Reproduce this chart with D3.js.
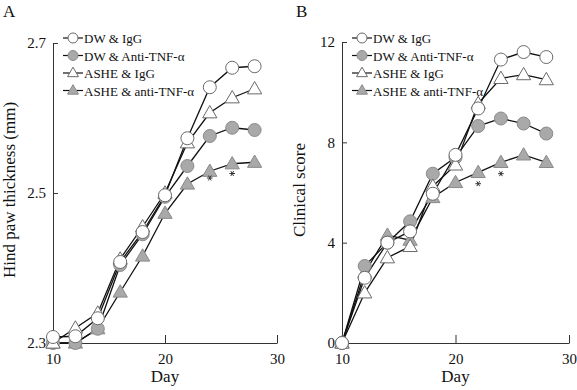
<!DOCTYPE html>
<html>
<head>
<meta charset="utf-8">
<script src="https://cdn.jsdelivr.net/npm/d3@7"></script>
<style>
  body { margin: 0; background: #fff; }
  svg { font-family: "Liberation Serif", "DejaVu Serif", serif; }
</style>
</head>
<body>
<svg id="chart" width="577" height="390"></svg>
<script>
// days shared by both panels
const days = [10, 12, 14, 16, 18, 20, 22, 24, 26, 28];

// panel A: hind paw thickness (mm)
const pawDwIgg   = [2.308, 2.309, 2.333, 2.408, 2.448, 2.497, 2.573, 2.641, 2.667, 2.669];
const pawDwAnti  = [2.300, 2.300, 2.319, 2.404, 2.445, 2.495, 2.536, 2.576, 2.587, 2.584];
const pawAsheIgg = [2.300, 2.320, 2.340, 2.412, 2.455, 2.500, 2.567, 2.607, 2.627, 2.639];
const pawAsheAnti= [2.300, 2.300, 2.319, 2.368, 2.416, 2.473, 2.512, 2.529, 2.539, 2.541];
const pawTicks = [2.3, 2.5, 2.7];
const pawStars = [[24, 2.52], [26, 2.526]];

// panel B: clinical score
const scoreDwIgg   = [0, 2.6, 4.0, 4.45, 5.95, 7.5, 9.35, 11.3, 11.6, 11.4];
const scoreDwAnti  = [0, 3.07, 4.0, 4.85, 6.75, 7.4, 8.65, 8.95, 8.75, 8.35];
const scoreAsheIgg = [0, 2.0, 3.4, 3.85, 6.25, 7.1, 9.55, 10.55, 10.7, 10.5];
const scoreAsheAnti= [0, 2.8, 4.3, 4.1, 5.8, 6.4, 6.8, 7.2, 7.5, 7.2];
const scoreTicks = [0, 4, 8, 12];
const scoreStars = [[22, 6.35], [24, 6.75]];

const dayTicks = [10, 20, 30];
const groups = ["DW & IgG", "DW & Anti-TNF-\u03b1", "ASHE & IgG", "ASHE & anti-TNF-\u03b1"];
const shapes = ["circle", "circle", "triangle", "triangle"];
const filled = [false, true, false, true];

const svg = d3.select("#chart");

function drawMarker(g, shape, isFilled, x, y, big) {
  const fill = isFilled ? "#a9a9a9" : "#fff";
  const stroke = isFilled ? "#8a8a8a" : "#6a6a6a";
  if (shape === "circle") {
    g.append("circle").attr("cx", x).attr("cy", y).attr("r", big ? 6.5 : 5)
      .attr("fill", fill).attr("stroke", stroke).attr("stroke-width", 1);
  } else {
    g.append("path")
      .attr("d", d3.symbol(d3.symbolTriangle, big ? 88 : 52)())
      .attr("transform", `translate(${x},${y + (big ? 1 : 0.5)})`)
      .attr("fill", fill).attr("stroke", stroke).attr("stroke-width", 1);
  }
}

function panel(opt) {
  const x = d3.scaleLinear().domain([10, 30]).range(opt.xr);
  const y = d3.scaleLinear().domain(opt.yd).range([343, opt.ytop]);
  const g = svg.append("g");

  // axes
  const ax = g.append("g").attr("transform", "translate(0,343)")
    .call(d3.axisBottom(x).tickValues(dayTicks).tickSizeInner(-8).tickSizeOuter(0).tickPadding(10));
  const ay = g.append("g").attr("transform", `translate(${opt.xr[0]},0)`)
    .call(d3.axisLeft(y).tickValues(opt.ticks).tickSizeInner(-5).tickSizeOuter(0).tickPadding(7)
      .tickFormat(opt.fmt));
  [ax, ay].forEach(a => {
    a.selectAll("path, line").attr("stroke", "#333");
    a.selectAll("text").attr("fill", "#111").attr("font-size", 15)
      .attr("font-family", "Liberation Serif");
  });

  // lines then markers
  const line = d3.line().x((d, i) => x(days[i])).y(d => y(d));
  const order = [3, 1, 2, 0];
  order.forEach(k => {
    g.append("path").datum(opt.series[k]).attr("d", line)
      .attr("fill", "none").attr("stroke", "#111").attr("stroke-width", 1.3);
  });
  order.forEach(k => {
    opt.series[k].forEach((v, i) => drawMarker(g, shapes[k], filled[k], x(days[i]), y(v), true));
  });

  // asterisks
  opt.stars.forEach(s => {
    g.append("path").attr("d", d3.symbol(d3.symbolAsterisk, 22)())
      .attr("transform", `translate(${x(s[0])},${y(s[1])}) rotate(90)`)
      .attr("fill", "none").attr("stroke", "#333").attr("stroke-width", 1);
  });

  // legend
  groups.forEach((name, k) => {
    const ly = opt.legY + k * 17.5;
    const lx = opt.legX;
    g.append("line").attr("x1", lx - 10).attr("x2", lx + 10).attr("y1", ly).attr("y2", ly)
      .attr("stroke", "#111").attr("stroke-width", 1.2);
    drawMarker(g, shapes[k], filled[k], lx, ly, false);
    g.append("text").attr("x", lx + 11).attr("y", ly + 5).attr("font-size", 13)
      .attr("fill", "#111").text(name);
  });

  // titles
  g.append("text").attr("x", opt.panelX).attr("y", 17).attr("font-size", 17)
    .attr("fill", "#111").text(opt.label);
  g.append("text").attr("transform", `translate(${opt.titleX},${opt.titleY}) rotate(-90)`)
    .attr("text-anchor", "middle").attr("font-size", 17).attr("fill", "#111").text(opt.title);
  g.append("text").attr("x", x(20)).attr("y", 382).attr("text-anchor", "middle")
    .attr("font-size", 17).attr("fill", "#111").text("Day");
}

panel({
  xr: [53, 277], yd: [2.3, 2.7], ytop: 43, ticks: pawTicks, fmt: d3.format(".1f"),
  series: [pawDwIgg, pawDwAnti, pawAsheIgg, pawAsheAnti], stars: pawStars,
  legX: 73, legY: 38, panelX: 3, label: "A",
  titleX: 15, titleY: 190, title: "Hind paw thickness (mm)"
});

panel({
  xr: [342, 569], yd: [0, 12], ytop: 42, ticks: scoreTicks, fmt: d3.format("d"),
  series: [scoreDwIgg, scoreDwAnti, scoreAsheIgg, scoreAsheAnti], stars: scoreStars,
  legX: 362, legY: 38, panelX: 296, label: "B",
  titleX: 305, titleY: 190, title: "Clinical score"
});
</script>
</body>
</html>
